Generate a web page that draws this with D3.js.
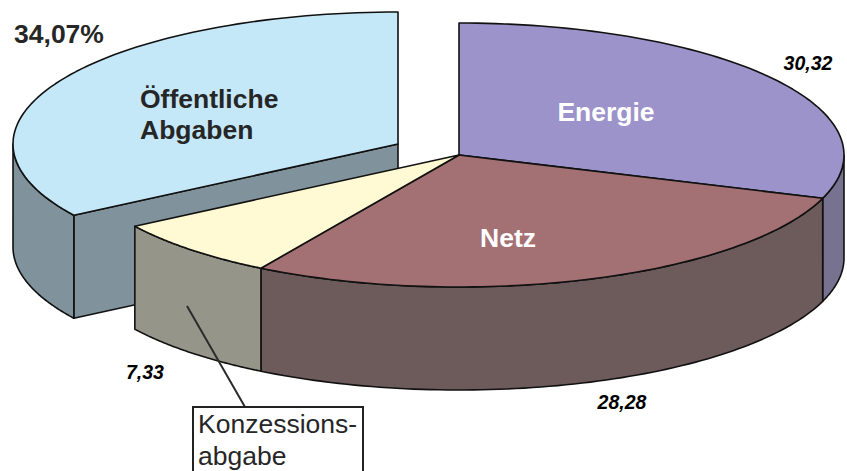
<!DOCTYPE html>
<html><head><meta charset="utf-8">
<script src="https://cdn.jsdelivr.net/npm/d3@7/dist/d3.min.js"></script>
<style>html,body{margin:0;padding:0;background:#fff}svg{display:block}text{font-family:"Liberation Sans",Arial,sans-serif}</style>
</head><body><svg id="c" width="847" height="471"></svg>
<script>
const categories = ["Energie","Netz","Konzessionsabgabe","Öffentliche Abgaben"];
const values = [30.32,28.28,7.33,34.07];
const valueLabels = ["30,32","28,28","7,33","34,07%"];
const topColors = ["#9b93c9","#a37073","#fff9d4","#c5e8f9"];
const sideColors = ["#77728f","#6d5a5a","#96958a","#80929b"];

const svg = d3.select("#c");
const rx = 385, ry = 132, depth = 103;
const arcs = d3.pie().sort(null).value(d=>d)(values);
const centers = [[459,155],[459,155],[459,155],[398,144]];
const pt = (c,a,dy=0)=>[c[0]+rx*Math.sin(a), c[1]-ry*Math.cos(a)+dy];
function ellipsePts(c,a0,a1,dy){
  const s = d3.scaleLinear().domain([0,80]).range([a0,a1]);
  return d3.range(81).map(i=>pt(c,s(i),dy));
}
const line = d3.line();
const style = sel=>sel.attr("stroke","#111").attr("stroke-width",1.6).attr("stroke-linejoin","round");
[3,0,1,2].forEach(i=>{
  const d = arcs[i], c = centers[i];
  const g = svg.append("g");
  const lo = Math.max(d.startAngle,Math.PI/2), hi = Math.min(d.endAngle,Math.PI*1.5);
  if(i===3){
    const p = pt(c,d.startAngle);
    style(g.append("path").attr("fill",sideColors[i]).attr("d",line([c,p,[p[0],p[1]+depth],[c[0],c[1]+depth]])+"Z"));
  }
  if(hi>lo){
    const top = ellipsePts(c,lo,hi,0), bot = ellipsePts(c,hi,lo,depth);
    style(g.append("path").attr("fill",sideColors[i]).attr("d",line(top.concat(bot))+"Z"));
  }
  style(g.append("path").attr("fill",topColors[i])
    .attr("d",line([c].concat(ellipsePts(c,d.startAngle,d.endAngle,0)))+"Z"));
});

const txt=(x,y,s,size,opts={})=>svg.append("text").attr("x",x).attr("y",y).text(s)
  .attr("font-size",size).attr("font-weight",opts.w||"bold").attr("font-style",opts.i?"italic":"normal")
  .attr("fill",opts.f||"#000").attr("text-anchor",opts.a||"middle");
txt(606,121,categories[0],26.5,{f:"#fff"});
txt(508,247,categories[1],26.5,{f:"#fff"});
txt(140,108,"Öffentliche",26.5,{a:"start",f:"#262626"});
txt(140,139,"Abgaben",26.5,{a:"start",f:"#262626"});
txt(59,43,valueLabels[3],26.5,{f:"#262626"});
txt(808,70,valueLabels[0],19.5,{i:1});
txt(622,409,valueLabels[1],19.5,{i:1});
txt(145,379,valueLabels[2],19.5,{i:1});
svg.append("line").attr("x1",187).attr("y1",306).attr("x2",245).attr("y2",407).attr("stroke","#2b2b2b").attr("stroke-width",2);
svg.append("rect").attr("x",193).attr("y",407).attr("width",170).attr("height",70).attr("fill","#fff").attr("stroke","#222").attr("stroke-width",2);
txt(198,433,"Konzessions-",26.5,{a:"start",w:"normal",f:"#262626"});
txt(198,465,"abgabe",26.5,{a:"start",w:"normal",f:"#262626"});
</script></body></html>
